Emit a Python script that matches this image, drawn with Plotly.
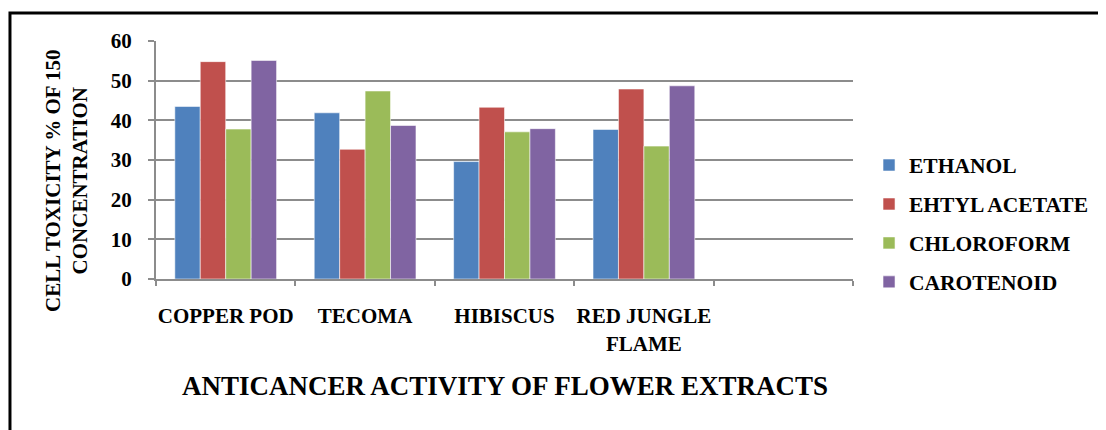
import plotly.graph_objects as go

categories = ["COPPER POD", "TECOMA", "HIBISCUS", "RED JUNGLE<br>FLAME"]
axis_slots = categories + [" "]
ethanol = [43.5, 41.9, 29.6, 37.7]
ethyl_acetate = [54.8, 32.7, 43.3, 47.9]
chloroform = [37.8, 47.4, 37.1, 33.5]
carotenoid = [55.1, 38.7, 37.9, 48.7]
series_names = ["ETHANOL", "EHTYL ACETATE", "CHLOROFORM", "CAROTENOID"]
series_values = [ethanol, ethyl_acetate, chloroform, carotenoid]
colors = ["#4F81BD", "#C0504D", "#9BBB59", "#8064A2"]
y_ticks = [0, 10, 20, 30, 40, 50, 60]

FONT = "Liberation Serif, Times New Roman, serif"
GRID = "#8C8C8C"

fig = go.Figure()
for i, (name, vals, col) in enumerate(zip(series_names, series_values, colors)):
    fig.add_trace(go.Bar(
        x=categories, y=vals, name=name, legendgroup=name,
        marker=dict(color=col, line=dict(color="rgba(255,255,255,0.55)", width=1)),
    ))

fig.update_layout(
    width=1098, height=422,
    margin=dict(l=148, r=253, t=33, b=151, autoexpand=False),
    paper_bgcolor="white", plot_bgcolor="white",
    font=dict(family=FONT, size=20, color="black", weight="bold"),
    barmode="group", bargap=0.27, bargroupgap=0,
    showlegend=True,
    legend=dict(
        x=1.023, xanchor="left", y=0.233, yanchor="middle",
        font=dict(family=FONT, size=21.5, color="black", weight="bold"),
        tracegroupgap=8, bgcolor="rgba(0,0,0,0)",
    ),
)

fig.update_xaxes(
    type="category", categoryorder="array", categoryarray=axis_slots,
    range=[-0.5, len(axis_slots) - 0.5],
    showline=True, linecolor=GRID, linewidth=2,
    ticks="outside", tickson="boundaries", ticklen=5, tickcolor=GRID, tickwidth=2,
    showgrid=False, ticklabelstandoff=17, tickangle=0,
    tickfont=dict(family=FONT, size=21, color="black", weight="bold"),
)
fig.update_yaxes(
    range=[0, 60], tickvals=y_ticks,
    showline=True, linecolor=GRID, linewidth=2,
    ticks="outside", ticklen=6, tickcolor=GRID, tickwidth=2,
    showgrid=True, gridcolor=GRID, gridwidth=2, zeroline=False,
    ticklabelstandoff=12,
    tickfont=dict(family=FONT, size=21, color="black", weight="bold"),
)

fig.add_annotation(
    text="CELL TOXICITY % OF 150<br>CONCENTRATION",
    xref="paper", yref="paper", x=-0.1277, y=0.416,
    xanchor="center", yanchor="middle", textangle=-90, showarrow=False,
    font=dict(family=FONT, size=21, color="black", weight="bold"),
)
fig.add_annotation(
    text="ANTICANCER ACTIVITY OF FLOWER EXTRACTS",
    xref="paper", yref="paper", x=0.5, y=-0.4496,
    xanchor="center", yanchor="middle", showarrow=False,
    font=dict(family=FONT, size=27, color="black", weight="bold"),
)
fig.add_shape(
    type="rect", xref="paper", yref="paper",
    x0=-0.2095, x1=1.37, y0=-0.68, y1=1.1176,
    line=dict(color="black", width=3), fillcolor="rgba(0,0,0,0)",
)

fig.write_html("out.html")
